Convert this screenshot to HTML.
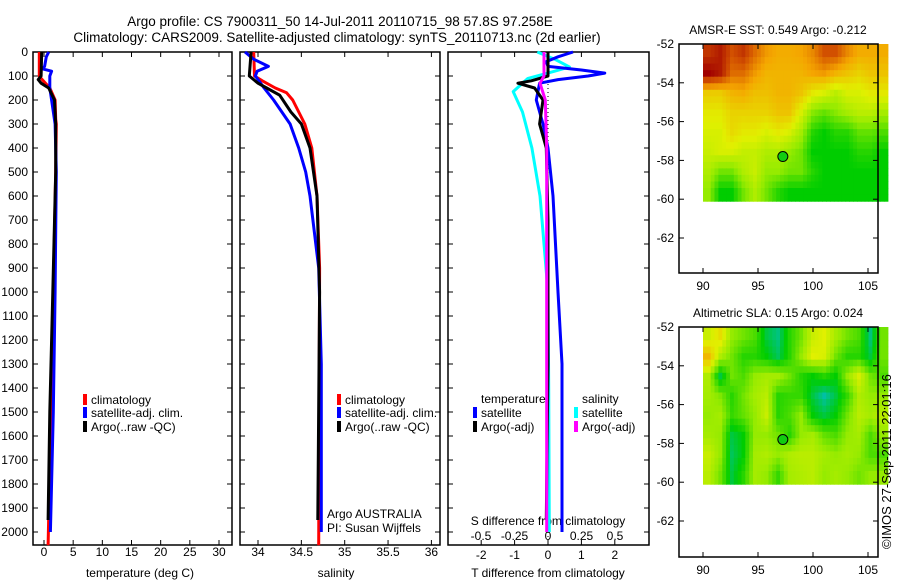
<!DOCTYPE html>
<html><head><meta charset="utf-8"><style>
body{margin:0;background:#fff;}
svg{display:block;font-family:"Liberation Sans",sans-serif;}
</style></head><body>
<svg id="c" width="900" height="580" xmlns="http://www.w3.org/2000/svg"></svg>
<script>
// ---------- data ----------
const depthTicks=[0,100,200,300,400,500,600,700,800,900,1000,1100,1200,1300,1400,1500,1600,1700,1800,1900,2000];
const tempTicks=[0,5,10,15,20,25,30];
const salTicks=[34,34.5,35,35.5,36];
const salTickLabels=["34","34.5","35","35.5","36"];
const tdTicks=[-2,-1,0,1,2];
const sdTicks=[-0.5,-0.25,0,0.25,0.5];
const sdTickLabels=["-0.5","-0.25","0","0.25","0.5"];
const lonTicks=[90,95,100,105];
const latTicks=[-52,-54,-56,-58,-60,-62];

const tClimD=[0,100,110,150,200,280,300,500,1000,1500,2055];
const tClimV=[-0.8,-0.8,-0.5,1.0,1.9,2.0,2.1,2.0,1.6,1.2,0.7];
const tArgoD=[0,100,115,130,150,200,300,500,1000,1500,1950];
const tArgoV=[-0.4,-0.5,-1.0,-0.5,0.8,1.8,2.0,2.0,1.5,1.0,0.7];
const tSatD=[0,20,60,70,80,100,150,200,300,500,1000,1500,2000];
const tSatV=[0.8,0.4,0.1,-0.3,1.3,1.0,1.0,1.3,1.9,2.1,1.9,1.6,1.1];

const sClimD=[0,100,120,150,170,200,300,400,600,900,2055];
const sClimV=[33.95,33.96,34.05,34.2,34.33,34.4,34.54,34.62,34.68,34.71,34.70];
const sArgoD=[0,100,130,150,180,250,300,400,600,1000,1950];
const sArgoV=[33.92,33.9,34.0,34.1,34.25,34.38,34.5,34.6,34.68,34.71,34.69];
const sSatD=[0,30,60,80,100,150,200,300,400,500,600,900,1300,2000];
const sSatV=[33.85,33.95,34.12,33.99,33.97,34.07,34.18,34.37,34.47,34.55,34.6,34.7,34.73,34.73];

const dTSatD=[0,20,40,60,75,88,100,115,130,200,300,400,600,1000,1300,2000];
const dTSatV=[0.75,0.3,-0.05,0.0,1.0,1.7,1.2,0.3,-0.25,-0.35,-0.15,0.0,0.15,0.3,0.42,0.42];
const dTArgoD=[0,100,120,130,150,200,300,400,700,1300,1950];
const dTArgoV=[0.0,0.0,-0.5,-0.9,-0.4,-0.15,-0.25,-0.05,0.0,0.0,-0.05];
const dSSatD=[0,30,62,80,110,165,250,400,600,1000,1400,2000];
const dSSatV=[-0.08,0.05,0.16,0.05,-0.15,-0.26,-0.19,-0.12,-0.06,0.0,0.005,0.01];
const dSArgoD=[0,100,130,200,400,1000,2000];
const dSArgoV=[-0.03,-0.03,-0.06,-0.02,-0.01,-0.01,-0.01];

const sstGrid=[
[0.9,0.95,0.85,0.9,0.8,0.72,0.68,0.68,0.7,0.75,0.85,0.85,0.75,0.68,0.68,0.68],
[1.0,0.95,0.8,0.8,0.72,0.66,0.66,0.66,0.66,0.7,0.72,0.66,0.62,0.58,0.62,0.62],
[0.6,0.6,0.66,0.68,0.63,0.63,0.66,0.66,0.62,0.52,0.48,0.42,0.48,0.48,0.52,0.52],
[0.52,0.52,0.58,0.58,0.58,0.58,0.62,0.62,0.48,0.33,0.28,0.33,0.38,0.42,0.42,0.38],
[0.48,0.48,0.56,0.52,0.52,0.48,0.52,0.48,0.38,0.2,0.15,0.2,0.2,0.28,0.28,0.25],
[0.45,0.48,0.48,0.44,0.44,0.4,0.4,0.35,0.3,0.15,0.15,0.15,0.15,0.2,0.2,0.15],
[0.4,0.3,0.3,0.4,0.45,0.35,0.35,0.3,0.3,0.2,0.15,0.15,0.15,0.15,0.15,0.15],
[0.35,0.15,0.15,0.3,0.4,0.3,0.2,0.15,0.15,0.15,0.15,0.15,0.15,0.15,0.15,0.15]];
const slaGrid=[
[0.45,0.55,0.35,0.3,0.25,0.1,0.05,0.2,0.3,0.45,0.5,0.38,0.3,0.25,0.05,0.3],
[0.65,0.4,0.3,0.2,0.2,0.15,0.08,0.2,0.35,0.5,0.48,0.3,0.2,0.2,0.1,0.3],
[0.4,0.1,0.3,0.25,0.35,0.38,0.38,0.3,0.2,0.15,0.2,0.15,0.35,0.48,0.3,0.25],
[0.38,0.32,0.2,0.3,0.38,0.42,0.2,0.22,0.22,0.1,0.02,0.1,0.22,0.4,0.35,0.35],
[0.35,0.38,0.22,0.28,0.35,0.45,0.2,0.25,0.35,0.15,0.1,0.15,0.3,0.42,0.38,0.42],
[0.38,0.35,0.1,0.15,0.35,0.35,0.3,0.2,0.35,0.38,0.28,0.25,0.35,0.38,0.25,0.35],
[0.45,0.35,0.08,0.15,0.38,0.4,0.35,0.4,0.42,0.42,0.38,0.35,0.38,0.35,0.25,0.25],
[0.42,0.3,0.1,0.2,0.38,0.35,0.22,0.38,0.4,0.42,0.35,0.38,0.35,0.3,0.35,0.35]];
const argoLon=97.258, argoLat=-57.8;

// ---------- helpers ----------
const NS="http://www.w3.org/2000/svg";
const svg=document.getElementById('c');
function el(t,a,p){const e=document.createElementNS(NS,t);for(const k in a)e.setAttribute(k,a[k]);(p||svg).appendChild(e);return e;}
function txt(x,y,s,anchor,size,p){const e=el('text',{x:x,y:y,'font-size':size||12,'text-anchor':anchor||'start',fill:'#000'},p);e.textContent=s;return e;}
const y0=52, pxPer100=24;
function yD(d){return y0+d*pxPer100/100;}
function xT(v){return 44+v*175/30;}
function xS(v){return 258+(v-34)*86.7;}
function xDT(v){return 548+v*33.4;}
function xDS(v){return 548+v*134;}
function lon2x(v){return 703+(v-90)*11;}
function lat2y(top,v){return top+(-52-v)*19.4;}

let t=txt(340,26,"Argo profile: CS 7900311_50 14-Jul-2011 20110715_98 57.8S 97.258E","middle",13.5);

t=txt(337,42,"Climatology: CARS2009. Satellite-adjusted climatology: synTS_20110713.nc (2d earlier)","middle",13.5);


function panel(name,x1,x2,yLabels){
  const g=el('g',{});
  
  el('rect',{x:x1,y:52,width:x2-x1,height:493,fill:'none',stroke:'#000','stroke-width':1.5},g);
  depthTicks.forEach(d=>{
    const y=yD(d);
    el('line',{x1:x1,x2:x1+5,y1:y,y2:y,stroke:'#000'},g);
    el('line',{x1:x2,x2:x2-5,y1:y,y2:y,stroke:'#000'},g);
    if(yLabels){const l=txt(x1-5,y+4,String(d),'end',12,g);
      }
  });
  return g;
}
function xTicks(g,ticks,labels,fx,ly){
  ticks.forEach((v,i)=>{const x=fx(v);
    el('line',{x1:x,x2:x,y1:545,y2:540,stroke:'#000'},g);
    el('line',{x1:x,x2:x,y1:52,y2:57,stroke:'#000'},g);
    const l=txt(x,ly,labels[i],'middle',12,g);
    });
}
function line(g,D,V,fx,color,name,w){
  let s=D.map((d,i)=>fx(V[i]).toFixed(1)+','+yD(Math.min(d,2055)).toFixed(1)).join(' ');
  const p=el('polyline',{points:s,fill:'none',stroke:color,'stroke-width':w||3,'stroke-linejoin':'round'},g);
  
}
function legendEntry(g,x,y,color,label,name){
  const r=el('rect',{x:x,y:y-10,width:4,height:11,fill:color},g);
  const l=txt(x+8,y,label,'start',12,g);
  const gg=el('g',{},g);gg.appendChild(r);gg.appendChild(l);
  
}

const p1=panel('temperature-panel',33,232,true);
xTicks(p1,tempTicks,tempTicks.map(String),xT,556);
t=txt(140,577,"temperature (deg C)","middle",12,p1);
line(p1,tClimD,tClimV,xT,'#f00','temp-climatology-line');
line(p1,tSatD,tSatV,xT,'#00f','temp-satellite-line');
line(p1,tArgoD,tArgoV,xT,'#000','temp-argo-line');
legendEntry(p1,83,404,'#f00','climatology','legend-climatology');
legendEntry(p1,83,417,'#00f','satellite-adj. clim.','legend-satellite');
legendEntry(p1,83,431,'#000','Argo(..raw -QC)','legend-argo');

const p2=panel('salinity-panel',240,440,false);
xTicks(p2,salTicks,salTickLabels,xS,556);
t=txt(336,577,"salinity","middle",12,p2);
line(p2,sClimD,sClimV,xS,'#f00','sal-climatology-line');
line(p2,sSatD,sSatV,xS,'#00f','sal-satellite-line');
line(p2,sArgoD,sArgoV,xS,'#000','sal-argo-line');
legendEntry(p2,337,404,'#f00','climatology','legend-climatology');
legendEntry(p2,337,417,'#00f','satellite-adj. clim.','legend-satellite');
legendEntry(p2,337,431,'#000','Argo(..raw -QC)','legend-argo');
t=txt(327,518,"Argo AUSTRALIA","start",12,p2);
t=txt(327,532,"PI: Susan Wijffels","start",12,p2);

const p3=panel('difference-panel',448,649,false);
xTicks(p3,tdTicks,tdTicks.map(String),xDT,559);
el('line',{x1:548,x2:548,y1:52,y2:545,stroke:'#000','stroke-dasharray':'1,3'},p3);
sdTicks.forEach((v,i)=>{const l=txt(xDS(v),540,sdTickLabels[i],'middle',12,p3);
  });
t=txt(548,525,"S difference from climatology","middle",12,p3);
t=txt(548,577,"T difference from climatology","middle",12,p3);
line(p3,dSSatD,dSSatV,xDS,'#0ff','s-diff-satellite-line');
line(p3,dTSatD,dTSatV,xDT,'#00f','t-diff-satellite-line');
line(p3,dTArgoD,dTArgoV,xDT,'#000','t-diff-argo-line');
line(p3,dSArgoD,dSArgoV,xDS,'#f0f','s-diff-argo-line');
t=txt(481,403,"temperature","start",12,p3);
t=txt(582,403,"salinity","start",12,p3);
legendEntry(p3,473,417,'#00f','satellite','legend-t-satellite');
legendEntry(p3,473,431,'#000','Argo(-adj)','legend-t-argo');
legendEntry(p3,574,417,'#0ff','satellite','legend-s-satellite');
legendEntry(p3,574,431,'#f0f','Argo(-adj)','legend-s-argo');

function lerp(a,b,f){return a.map((v,i)=>Math.round(v+(b[i]-v)*f));}
const stops=[[0,[0,190,190]],[0.15,[0,205,0]],[0.35,[150,235,0]],[0.5,[225,240,0]],[0.7,[245,165,0]],[0.85,[210,80,0]],[1,[160,0,0]]];
function cmap(v){for(let i=1;i<stops.length;i++){if(v<=stops[i][0]){const f=(v-stops[i-1][0])/(stops[i][0]-stops[i-1][0]);return 'rgb('+lerp(stops[i-1][1],stops[i][1],f).join(',')+')';}}return 'rgb(160,0,0)';}

// bilinear sample of grid at fractional (row,col) for smooth display
function sample(grid,r,c){
  const nr=grid.length,nc=grid[0].length;
  r=Math.max(0,Math.min(nr-1,r-0.5));c=Math.max(0,Math.min(nc-1,c-0.5));
  const r0=Math.floor(r),c0=Math.floor(c),r1=Math.min(nr-1,r0+1),c1=Math.min(nc-1,c0+1);
  const fr=r-r0,fc=c-c0;
  return grid[r0][c0]*(1-fr)*(1-fc)+grid[r0][c1]*(1-fr)*fc+grid[r1][c0]*fr*(1-fc)+grid[r1][c1]*fr*fc;
}
function map(name,top,bottom,grid,title){
  const g=el('g',{});
  
  t=txt(778,top-10,title,'middle',12,g);
  const nr=grid.length,nc=grid[0].length,sub=3;
  const lon0=90,lon1=106.8,lat0=-52,lat1=-60.1;
  const dl=(lon1-lon0)/(nc*sub), dt=(lat0-lat1)/(nr*sub);
  for(let r=0;r<nr*sub;r++)for(let c=0;c<nc*sub;c++){
    const v=sample(grid,(r+0.5)/sub,(c+0.5)/sub);
    const x=lon2x(lon0+c*dl), y=lat2y(top,lat0-r*dt);
    const rc=el('rect',{x:x.toFixed(1),y:y.toFixed(1),width:(lon2x(lon0+(c+1)*dl)-x+0.6).toFixed(1),height:(lat2y(top,lat0-(r+1)*dt)-y+0.6).toFixed(1),fill:cmap(v)},g);
    
    
  }
  el('rect',{x:679,y:top,width:199,height:bottom-top,fill:'none',stroke:'#000','stroke-width':1.5},g);
  latTicks.forEach(v=>{const y=lat2y(top,v);if(y>bottom)return;
    el('line',{x1:679,x2:684,y1:y,y2:y,stroke:'#000'},g);el('line',{x1:878,x2:873,y1:y,y2:y,stroke:'#000'},g);
    const l=txt(674,y+4,String(v),'end',12,g);});
  lonTicks.forEach(v=>{const x=lon2x(v);
    el('line',{x1:x,x2:x,y1:bottom,y2:bottom-5,stroke:'#000'},g);el('line',{x1:x,x2:x,y1:top,y2:top+5,stroke:'#000'},g);
    const l=txt(x,bottom+17,String(v),'middle',12,g);});
  const m=el('circle',{cx:lon2x(argoLon),cy:lat2y(top,argoLat),r:5,fill:'#1c1',stroke:'#000','stroke-width':1},g);
  
}
map('sst-map',44,273,sstGrid,"AMSR-E SST: 0.549 Argo: -0.212");
map('sla-map',327,557,slaGrid,"Altimetric SLA: 0.15 Argo: 0.024");

t=txt(0,0,"©IMOS 27-Sep-2011 22:01:16","start",13);
t.setAttribute('transform','translate(891,549) rotate(-90)');

</script>
</body></html>
